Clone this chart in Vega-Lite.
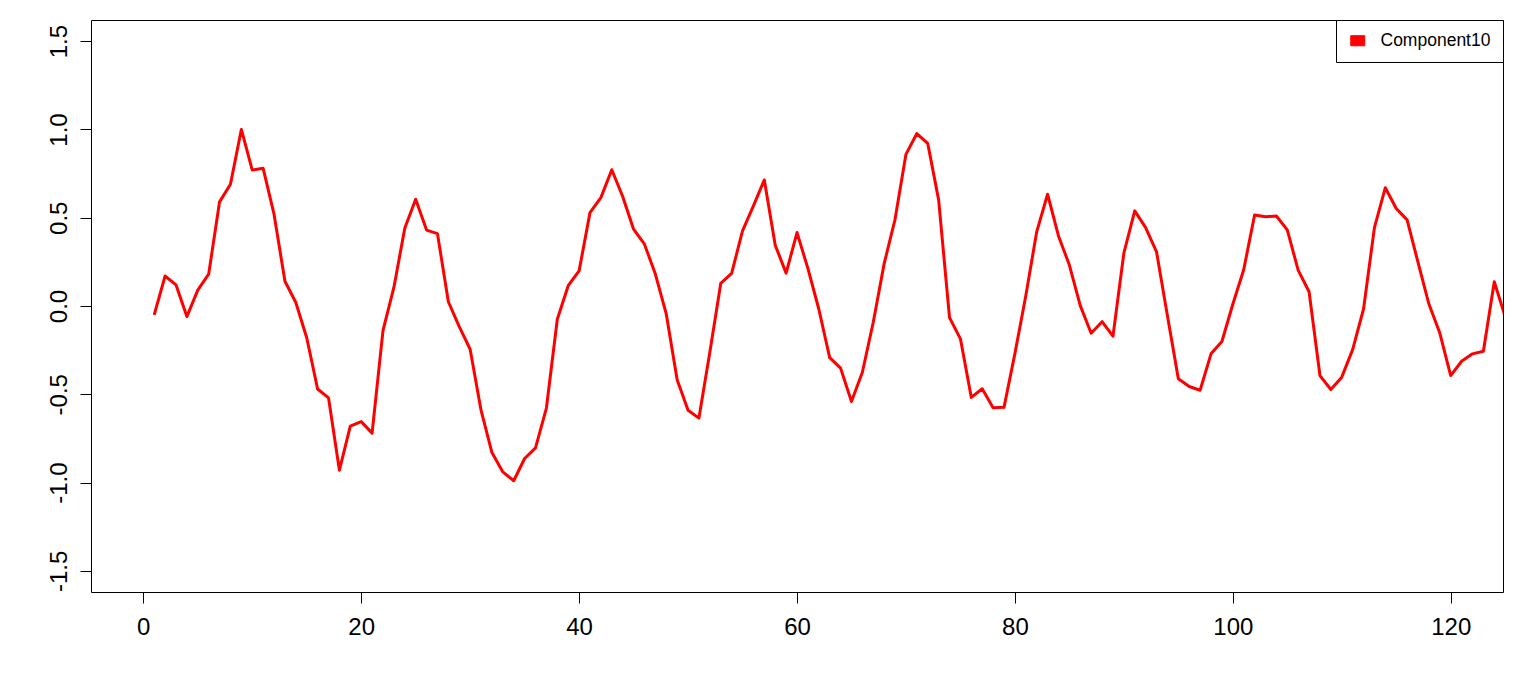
{
  "$schema": "https://vega.github.io/schema/vega-lite/v6.json",
  "autosize": {"type": "none"},
  "padding": {"left": 91, "top": 20, "right": 12, "bottom": 88},
  "width": 1412,
  "height": 572,
  "background": "white",
  "data": {"values": [
    {"t":1,"v":-0.05},{"t":2,"v":0.17},{"t":3,"v":0.12},{"t":4,"v":-0.06},{"t":5,"v":0.09},
    {"t":6,"v":0.18},{"t":7,"v":0.59},{"t":8,"v":0.69},{"t":9,"v":1.0},{"t":10,"v":0.77},
    {"t":11,"v":0.78},{"t":12,"v":0.52},{"t":13,"v":0.14},{"t":14,"v":0.02},{"t":15,"v":-0.18},
    {"t":16,"v":-0.47},{"t":17,"v":-0.52},{"t":18,"v":-0.93},{"t":19,"v":-0.68},{"t":20,"v":-0.655},
    {"t":21,"v":-0.72},{"t":22,"v":-0.14},{"t":23,"v":0.105},{"t":24,"v":0.44},{"t":25,"v":0.605},
    {"t":26,"v":0.43},{"t":27,"v":0.41},{"t":28,"v":0.024},{"t":29,"v":-0.117},{"t":30,"v":-0.245},
    {"t":31,"v":-0.59},{"t":32,"v":-0.83},{"t":33,"v":-0.94},{"t":34,"v":-0.99},{"t":35,"v":-0.864},
    {"t":36,"v":-0.804},{"t":37,"v":-0.578},{"t":38,"v":-0.075},{"t":39,"v":0.115},{"t":40,"v":0.199},
    {"t":41,"v":0.529},{"t":42,"v":0.614},{"t":43,"v":0.772},{"t":44,"v":0.62},{"t":45,"v":0.435},
    {"t":46,"v":0.35},{"t":47,"v":0.181},{"t":48,"v":-0.045},{"t":49,"v":-0.418},{"t":50,"v":-0.591},
    {"t":51,"v":-0.635},{"t":52,"v":-0.262},{"t":53,"v":0.128},{"t":54,"v":0.185},{"t":55,"v":0.426},
    {"t":56,"v":0.567},{"t":57,"v":0.714},{"t":58,"v":0.345},{"t":59,"v":0.186},{"t":60,"v":0.416},
    {"t":61,"v":0.213},{"t":62,"v":-0.017},{"t":63,"v":-0.292},{"t":64,"v":-0.352},{"t":65,"v":-0.541},
    {"t":66,"v":-0.375},{"t":67,"v":-0.092},{"t":68,"v":0.24},{"t":69,"v":0.491},{"t":70,"v":0.859},
    {"t":71,"v":0.977},{"t":72,"v":0.921},{"t":73,"v":0.601},{"t":74,"v":-0.066},{"t":75,"v":-0.186},
    {"t":76,"v":-0.518},{"t":77,"v":-0.469},{"t":78,"v":-0.576},{"t":79,"v":-0.574},{"t":80,"v":-0.27},
    {"t":81,"v":0.058},{"t":82,"v":0.42},{"t":83,"v":0.633},{"t":84,"v":0.397},{"t":85,"v":0.232},
    {"t":86,"v":0.002},{"t":87,"v":-0.154},{"t":88,"v":-0.089},{"t":89,"v":-0.171},{"t":90,"v":0.299},
    {"t":91,"v":0.539},{"t":92,"v":0.444},{"t":93,"v":0.307},{"t":94,"v":-0.055},{"t":95,"v":-0.412},
    {"t":96,"v":-0.456},{"t":97,"v":-0.477},{"t":98,"v":-0.271},{"t":99,"v":-0.201},{"t":100,"v":0.01},
    {"t":101,"v":0.205},{"t":102,"v":0.515},{"t":103,"v":0.505},{"t":104,"v":0.51},{"t":105,"v":0.431},
    {"t":106,"v":0.203},{"t":107,"v":0.081},{"t":108,"v":-0.394},{"t":109,"v":-0.473},{"t":110,"v":-0.403},
    {"t":111,"v":-0.247},{"t":112,"v":-0.017},{"t":113,"v":0.444},{"t":114,"v":0.67},{"t":115,"v":0.552},
    {"t":116,"v":0.488},{"t":117,"v":0.247},{"t":118,"v":0.011},{"t":119,"v":-0.153},{"t":120,"v":-0.394},
    {"t":121,"v":-0.313},{"t":122,"v":-0.271},{"t":123,"v":-0.256},{"t":124,"v":0.137},{"t":125,"v":-0.06}
  ]},
  "mark": {"type": "line", "strokeWidth": 3, "clip": true, "strokeJoin": "round"},
  "encoding": {
    "x": {
      "field": "t", "type": "quantitative",
      "scale": {"domain": [-4.8, 124.8], "nice": false, "zero": false},
      "axis": {"values": [0, 20, 40, 60, 80, 100, 120], "title": null, "domain": false, "grid": false,
               "tickSize": 11, "labelPadding": 12, "format": "d"}
    },
    "y": {
      "field": "v", "type": "quantitative",
      "scale": {"domain": [-1.62, 1.62], "nice": false, "zero": false},
      "axis": {"values": [-1.5, -1, -0.5, 0, 0.5, 1, 1.5], "title": null, "domain": false, "grid": false,
               "tickSize": 11, "labelPadding": 14, "labelAngle": -90, "labelAlign": "center", "labelBaseline": "alphabetic",
               "labelExpr": "datum.value < 0 ? '-' + format(-datum.value, '.1f') : format(datum.value, '.1f')"}
    },
    "color": {
      "datum": "Component10",
      "type": "nominal",
      "scale": {"range": ["#FF0000"]},
      "legend": {
        "title": null, "orient": "top-right", "offset": 0, "padding": 12,
        "strokeColor": "black", "fillColor": "white", "cornerRadius": 0,
        "symbolSize": 196, "symbolOffset": 1, "labelOffset": 14,
        "labelFont": "Liberation Sans", "labelFontSize": 17.5, "labelColor": "black",
        "encode": {"symbols": {"update": {"fill": {"value": "#FF0000"}, "stroke": {"value": "black"}, "strokeWidth": {"value": 1}, "shape": {"value": "M-1,-0.72L1,-0.72L1,0.72L-1,0.72Z"}, "opacity": {"value": 1}}}}
      }
    }
  },
  "config": {
    "view": {"stroke": "black", "strokeWidth": 1},
    "axis": {"labelFont": "Liberation Sans", "labelFontSize": 24, "labelColor": "black",
             "tickColor": "black", "tickWidth": 1, "labelFlush": false, "labelOverlap": false}
  }
}
